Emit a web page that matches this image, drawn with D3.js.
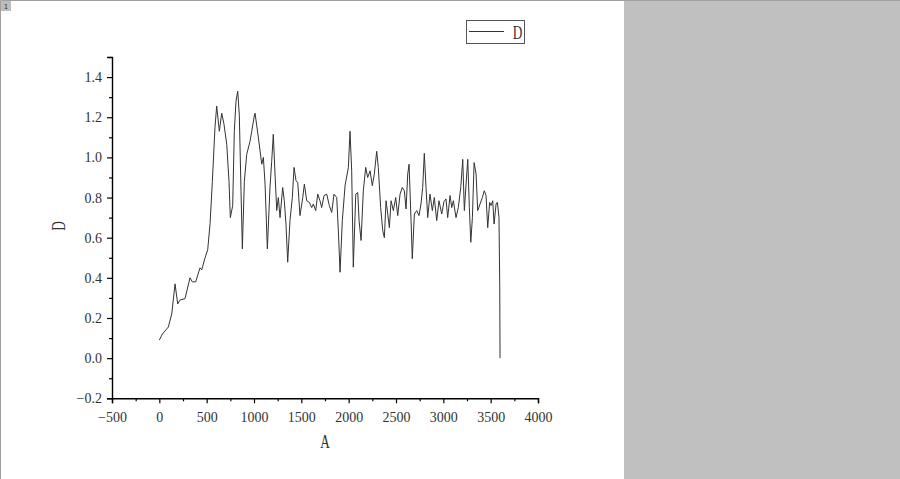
<!DOCTYPE html>
<html>
<head>
<meta charset="utf-8">
<script src="https://cdn.jsdelivr.net/npm/d3@7"></script>
<style>
  body { margin: 0; background: #fff; }
  .tick text { font-family: "Liberation Serif", serif; font-size: 14px; fill: #333; }
  .title { font-family: "Liberation Serif", serif; font-size: 19px; fill: #333; }
</style>
</head>
<body>
<svg width="900" height="479"></svg>
<script>
// series
var aValues = [0, 32, 95, 131, 166, 194, 219, 271, 324, 349, 384, 430, 448, 483, 511, 536, 560, 588, 606, 634,
  659, 683, 712, 736, 750, 775, 792, 810, 828, 845, 863, 877, 898, 923, 958, 976, 1003, 1011, 1046, 1082,
  1099, 1117, 1141, 1169, 1187, 1204, 1222, 1240, 1257, 1275, 1303, 1320, 1338, 1356, 1380, 1405, 1423, 1444, 1462, 1486,
  1515, 1532, 1557, 1584, 1610, 1627, 1652, 1673, 1697, 1715, 1740, 1768, 1796, 1821, 1845, 1874, 1891, 1909, 1933, 1962,
  1997, 2014, 2032, 2049, 2075, 2096, 2110, 2131, 2155, 2180, 2201, 2226, 2250, 2271, 2296, 2313, 2338, 2360, 2377, 2395,
  2413, 2430, 2448, 2472, 2497, 2518, 2543, 2567, 2588, 2606, 2624, 2638, 2659, 2672, 2694, 2719, 2743, 2764, 2782, 2799,
  2817, 2835, 2859, 2884, 2905, 2930, 2954, 2983, 3007, 3028, 3046, 3071, 3089, 3106, 3134, 3158, 3184, 3205, 3222, 3240,
  3258, 3275, 3290, 3307, 3325, 3346, 3363, 3388, 3412, 3433, 3451, 3469, 3489, 3504, 3522, 3536, 3557, 3571, 3588, 3596, 3599];
var dValues = [0.09, 0.12, 0.155, 0.22, 0.37, 0.27, 0.29, 0.296, 0.40, 0.38, 0.38, 0.45, 0.44, 0.50, 0.54, 0.67, 0.88, 1.15, 1.256, 1.13,
  1.22, 1.165, 1.065, 0.88, 0.70, 0.76, 1.13, 1.28, 1.33, 1.21, 0.83, 0.544, 0.88, 1.015, 1.08, 1.13, 1.206, 1.22, 1.10, 0.966,
  1.0, 0.867, 0.544, 0.85, 0.98, 1.115, 0.917, 0.735, 0.80, 0.70, 0.85, 0.784, 0.668, 0.478, 0.685, 0.80, 0.95, 0.883, 0.875, 0.71,
  0.80, 0.867, 0.784, 0.776, 0.75, 0.768, 0.735, 0.817, 0.784, 0.75, 0.81, 0.817, 0.76, 0.726, 0.817, 0.80, 0.635, 0.428, 0.685, 0.86,
  0.95, 1.13, 0.933, 0.453, 0.817, 0.825, 0.685, 0.586, 0.834, 0.95, 0.90, 0.933, 0.859, 0.917, 1.03, 0.95, 0.75, 0.635, 0.60, 0.784,
  0.718, 0.65, 0.784, 0.735, 0.80, 0.71, 0.817, 0.85, 0.834, 0.743, 0.917, 0.966, 0.685, 0.495, 0.718, 0.735, 0.71, 0.768, 0.85, 1.02,
  0.85, 0.70, 0.817, 0.735, 0.80, 0.685, 0.784, 0.718, 0.78, 0.793, 0.70, 0.81, 0.75, 0.784, 0.70, 0.75, 0.85, 0.99, 0.735, 0.867,
  0.99, 0.75, 0.577, 0.70, 0.974, 0.917, 0.735, 0.768, 0.80, 0.834, 0.81, 0.65, 0.776, 0.76, 0.784, 0.668, 0.768, 0.776, 0.70, 0.354, 0];

var xMajor = [-500, 0, 500, 1000, 1500, 2000, 2500, 3000, 3500, 4000];
var xMinor = [-250, 250, 750, 1250, 1750, 2250, 2750, 3250, 3750];
var yMajor = [-0.2, 0, 0.2, 0.4, 0.6, 0.8, 1.0, 1.2, 1.4];
var yMinor = [-0.1, 0.1, 0.3, 0.5, 0.7, 0.9, 1.1, 1.3, 1.5];

var svg = d3.select("svg");

// page frame + grey area on the right
svg.append("rect").attr("x", 624).attr("y", 0).attr("width", 276).attr("height", 479).attr("fill", "#c0c0c0");
svg.append("path").attr("d", "M0.5,479V0.5H900").attr("fill", "none").attr("stroke", "#a0a0a0");
svg.append("rect").attr("x", 1).attr("y", 1).attr("width", 10).attr("height", 10).attr("fill", "#bdbdbd");
svg.append("text").attr("x", 6).attr("y", 9).attr("text-anchor", "middle")
  .attr("font-family", "DejaVu Sans").attr("font-size", 7).attr("fill", "#333").text("1");

var x = d3.scaleLinear().domain([-500, 4000]).range([112, 538]);
var y = d3.scaleLinear().domain([-0.2, 1.5]).range([398.3, 57]);

// axes
var gx = svg.append("g").attr("transform", "translate(0," + y(-0.2) + ")");
gx.call(d3.axisBottom(x).tickValues(xMajor).tickSize(5).tickPadding(9).tickFormat(d3.format("d")));
gx.append("g").call(d3.axisBottom(x).tickValues(xMinor).tickSize(3).tickFormat(""))
  .select(".domain").remove();

var gy = svg.append("g").attr("transform", "translate(" + x(-500) + ",0)");
gy.call(d3.axisLeft(y).tickValues(yMajor).tickSize(5).tickPadding(5).tickFormat(d3.format(".1f")));
gy.append("g").call(d3.axisLeft(y).tickValues(yMinor).tickSize(3).tickFormat(""))
  .select(".domain").remove();

svg.selectAll(".domain").attr("stroke", "#000").attr("stroke-width", 1.4);
svg.selectAll(".tick line").attr("stroke", "#000").attr("stroke-width", 1.2);

// axis titles (narrow, tall glyphs)
svg.append("text").attr("class", "title")
  .attr("transform", "translate(325,448) scale(0.7,1)")
  .attr("text-anchor", "middle").text("A");
svg.append("text").attr("class", "title")
  .attr("transform", "translate(65,226) rotate(-90) scale(0.7,1)")
  .attr("text-anchor", "middle").text("D");

// the line
var line = d3.line()
  .x(function(d, i) { return x(aValues[i]); })
  .y(function(d) { return y(d); });

svg.append("path")
  .datum(dValues)
  .attr("fill", "none")
  .attr("stroke", "#333")
  .attr("stroke-width", 1)
  .attr("d", line);

// legend
var legend = svg.append("g").attr("id", "legend");
legend.append("rect").attr("x", 466.5).attr("y", 20.5).attr("width", 58).attr("height", 23)
  .attr("fill", "#fff").attr("stroke", "#555");
legend.append("line").attr("x1", 469).attr("x2", 504).attr("y1", 31.5).attr("y2", 31.5)
  .attr("stroke", "#333");
legend.append("text").attr("class", "title")
  .attr("transform", "translate(517.5,39) scale(0.7,1)")
  .attr("text-anchor", "middle").attr("font-size", 20).text("D");
</script>
</body>
</html>
